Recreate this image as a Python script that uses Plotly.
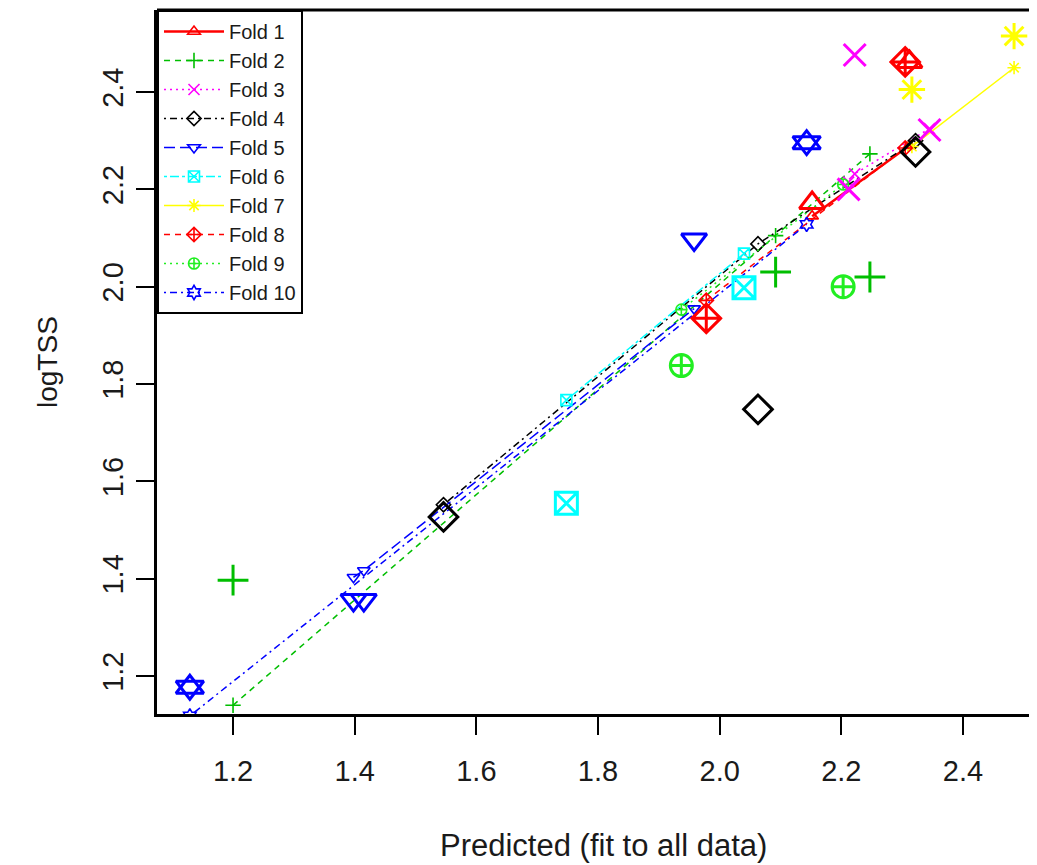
import plotly.graph_objects as go

# ---------------- data ----------------
fold_names = ["Fold 1", "Fold 2", "Fold 3", "Fold 4", "Fold 5",
              "Fold 6", "Fold 7", "Fold 8", "Fold 9", "Fold 10"]

# predicted (fit to all data)
pred_f1 = [2.152, 2.312]
pred_f2 = [1.200, 2.092, 2.247]
pred_f3 = [2.212, 2.222, 2.345]
pred_f4 = [1.546, 2.063, 2.322]
pred_f5 = [1.398, 1.415, 1.958]
pred_f6 = [1.748, 2.040]
pred_f7 = [2.316, 2.484]
pred_f8 = [1.978, 2.305]
pred_f9 = [1.937, 2.203]
pred_f10 = [1.129, 2.143]

# observed logTSS
obs_f1 = [2.172, 2.462]
obs_f2 = [1.397, 2.030, 2.020]
obs_f3 = [2.200, 2.476, 2.322]
obs_f4 = [1.527, 1.748, 2.277]
obs_f5 = [1.356, 1.356, 2.097]
obs_f6 = [1.555, 1.998]
obs_f7 = [2.405, 2.515]
obs_f8 = [1.935, 2.462]
obs_f9 = [1.838, 2.000]
obs_f10 = [1.177, 2.296]

# cross-validated predictions
cv_f1 = [2.145, 2.290]
cv_f2 = [1.140, 2.105, 2.273]
cv_f3 = [2.215, 2.232, 2.325]
cv_f4 = [1.552, 2.088, 2.300]
cv_f5 = [1.403, 1.417, 1.955]
cv_f6 = [1.767, 2.068]
cv_f7 = [2.288, 2.450]
cv_f8 = [1.972, 2.285]
cv_f9 = [1.953, 2.210]
cv_f10 = [1.118, 2.128]

tick_vals = [1.2, 1.4, 1.6, 1.8, 2.0, 2.2, 2.4]

preds = [pred_f1, pred_f2, pred_f3, pred_f4, pred_f5, pred_f6, pred_f7, pred_f8, pred_f9, pred_f10]
obss = [obs_f1, obs_f2, obs_f3, obs_f4, obs_f5, obs_f6, obs_f7, obs_f8, obs_f9, obs_f10]
cvs = [cv_f1, cv_f2, cv_f3, cv_f4, cv_f5, cv_f6, cv_f7, cv_f8, cv_f9, cv_f10]

# ---------------- styles ----------------
colors = ["#FF0000", "#00BE00", "#FF00FF", "#000000", "#0000FF",
          "#00FFFF", "#FFFF00", "#FF0000", "#22EE22", "#0000FF"]
symbols = ["triangle-up-open", "cross-thin-open", "x-thin-open", "diamond-open",
           "triangle-down-open", "square-x-open", "asterisk-open",
           "diamond-cross-open", "circle-cross-open", "hexagram-open"]
dashes = ["solid", "6px,5px", "2px,4px", "2px,4px,7px,4px", "11px,5px",
          "3px,3px,9px,3px", "solid", "6px,5px", "2px,4px", "2px,4px,7px,4px"]
line_w = [2.5, 1.5, 1.5, 1.5, 1.5, 1.5, 1.5, 1.5, 1.5, 1.5]

FONT = "Liberation Sans, Arial, sans-serif"
TXT = "#1a1a1a"

# page offset of the plot div (body margin) is 8px
W, H = 1029, 857
ML, MT, MB, MR = 149, 2, 151, 0
PW, PH = W - ML - MR, H - MT - MB

fig = go.Figure()

# cv lines with small symbols (these carry the legend)
for i in range(10):
    fig.add_trace(go.Scatter(
        x=preds[i], y=cvs[i], mode="lines+markers", name=fold_names[i],
        line=dict(color=colors[i], width=line_w[i], dash=dashes[i]),
        marker=dict(symbol=symbols[i], size=11, color=colors[i],
                    line=dict(color=colors[i], width=1.6)),
        showlegend=True,
    ))

# observed values, large symbols
for i in range(10):
    if i == 9:
        # star of David drawn as two overlapping triangles
        for sym in ["triangle-up-open", "triangle-down-open"]:
            fig.add_trace(go.Scatter(
                x=preds[i], y=obss[i], mode="markers", name=fold_names[i],
                marker=dict(symbol=sym, size=24, color=colors[i],
                            line=dict(color=colors[i], width=3)),
                showlegend=False,
            ))
    else:
        fig.add_trace(go.Scatter(
            x=preds[i], y=obss[i], mode="markers", name=fold_names[i],
            marker=dict(symbol=symbols[i], size=22, color=colors[i],
                        line=dict(color=colors[i], width=3)),
            showlegend=False,
        ))

fig.update_layout(
    width=W, height=H,
    margin=dict(l=ML, r=MR, t=MT, b=MB),
    paper_bgcolor="white", plot_bgcolor="white",
    font=dict(family=FONT, size=29, color=TXT),
    xaxis=dict(range=[1.075, 2.5217], tickvals=tick_vals, tickformat=".1f",
               showgrid=False, zeroline=False, showline=True, linecolor="black",
               linewidth=3, ticks="outside", ticklen=18, tickwidth=1.5,
               tickcolor="black", ticklabelstandoff=11,
               tickfont=dict(size=29, family=FONT, color=TXT)),
    yaxis=dict(range=[1.122, 2.5686], tickvals=tick_vals, tickformat=".1f",
               showgrid=False, zeroline=False, showline=True, linecolor="black",
               linewidth=3, ticks="outside", ticklen=18, tickwidth=1.5,
               tickcolor="black", tickangle=-90, ticklabelstandoff=1,
               tickfont=dict(size=29, family=FONT, color=TXT)),
    legend=dict(x=0, y=1, xanchor="left", yanchor="top",
                bgcolor="white", bordercolor="black", borderwidth=2,
                font=dict(size=20, family=FONT, color=TXT),
                itemsizing="trace", itemwidth=60, tracegroupgap=0),
    showlegend=True,
)

# top border of the box
fig.add_shape(type="line", xref="paper", yref="paper", x0=0, x1=1, y0=1, y1=1,
              line=dict(color="black", width=3))

# axis titles (positions given in page pixels)
fig.add_annotation(text="Predicted (fit to all data)", xref="paper", yref="paper",
                   x=(603 - 157) / PW, y=-(845 - 714) / PH, showarrow=False,
                   xanchor="center", yanchor="middle",
                   font=dict(size=31, family=FONT, color=TXT))
fig.add_annotation(text="logTSS", xref="paper", yref="paper",
                   x=-(157 - 47) / PW, y=0.5, showarrow=False, textangle=-90,
                   xanchor="center", yanchor="middle",
                   font=dict(size=28, family=FONT, color=TXT))

fig.write_html("out.html")
